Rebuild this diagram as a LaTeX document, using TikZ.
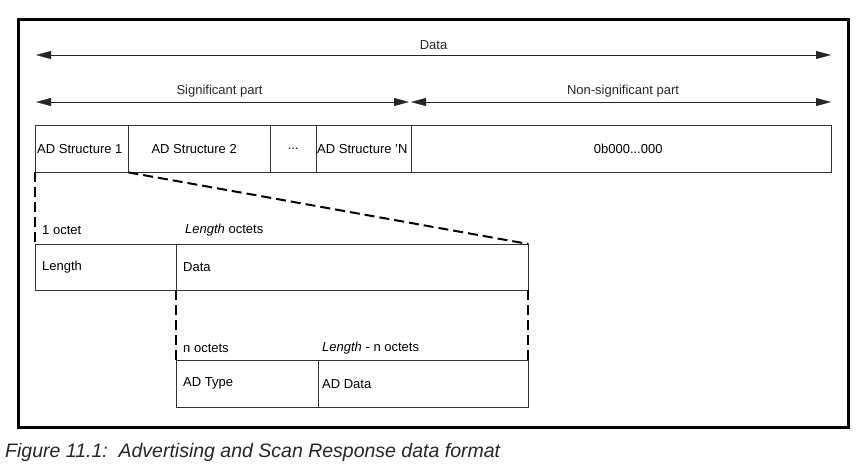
\documentclass[tikz,border=0pt]{standalone}
\usepackage{fontspec}
\setmainfont{Liberation Sans}
\usetikzlibrary{arrows.meta}
\tikzset{
	field/.style={draw=black!80, thin, anchor=north west, inner sep=0pt},
	fieldtext/.style={anchor=west, inner sep=0pt, font=\fontsize{13}{15}\selectfont},
	span/.style={{Triangle[length=15pt,width=8pt]}-{Triangle[length=15pt,width=8pt]}, black!85, thin},
	zoomline/.style={dashed, dash pattern=on 10pt off 5pt, line width=2pt}
}
\begin{document}
\begin{tikzpicture}[x=1pt,y=-1pt]
		\useasboundingbox (0,0) rectangle (862,472);
		\draw[line width=3pt] (18,19) rectangle (848,427);
		\coordinate (dl) at (36,55);
		\coordinate (dr) at (831,55);
		\coordinate (sl) at (36,102);
		\coordinate (sr) at (409,102);
		\coordinate (nl) at (411,102);
		\coordinate (nr) at (831,102);
		\draw[span] (dl) -- node[above=5pt, fieldtext, anchor=south]{Data} (dr);
		\draw[span] (sl) -- node[above=5pt, fieldtext, anchor=south, xshift=-3pt]{Significant part} (sr);
		\draw[span] (nl) -- node[above=5pt, fieldtext, anchor=south, xshift=2pt]{Non-significant part} (nr);
		\node[field, minimum width=93pt, minimum height=47pt] (s1) at (35,125) {};
		\node[field, minimum width=142pt, minimum height=47pt] (s2) at (128,125) {};
		\node[field, minimum width=46pt, minimum height=47pt] (sdots) at (270,125) {};
		\node[field, minimum width=95pt, minimum height=47pt] (sN) at (316,125) {};
		\node[field, minimum width=420pt, minimum height=47pt] (pad) at (411,125) {};
		\node[fieldtext] (s1t) at ([xshift=2pt]s1.west) {AD Structure 1};
		\node[fieldtext, anchor=center] (s2t) at ([xshift=-5pt]s2.center) {AD Structure 2};
		\node[fieldtext, anchor=center] (sdotst) at (sdots.center) {...};
		\node[fieldtext] (sNt) at ([xshift=1pt]sN.west) {AD Structure 'N};
		\node[fieldtext, anchor=center] (padt) at ([xshift=7pt]pad.center) {0b000...000};
		\node[field, minimum width=141pt, minimum height=46pt] (len) at (35,244) {};
		\node[field, minimum width=352pt, minimum height=46pt] (dat) at (176,244) {};
		\node[fieldtext] (lent) at ([xshift=7pt]len.west) {Length};
		\node[fieldtext] (datt) at ([xshift=7pt]dat.west) {Data};
		\node[fieldtext] (lenw) at (42,230) {1 octet};
		\node[fieldtext] (datw) at (185,230) {\emph{Length} octets};
		\node[field, minimum width=142pt, minimum height=47pt] (type) at (176,360) {};
		\node[field, minimum width=210pt, minimum height=47pt] (addata) at (318,360) {};
		\node[fieldtext] (typet) at ([xshift=7pt]type.west) {AD Type};
		\node[fieldtext] (addatat) at ([xshift=4pt]addata.west) {AD Data};
		\node[fieldtext] (typew) at (183,348) {n octets};
		\node[fieldtext] (addataw) at (322,348) {\emph{Length} - n octets};
		\draw[zoomline] (s1.south west) -- (len.north west);
		\draw[zoomline] (s1.south east) -- (dat.north east);
		\draw[zoomline] (dat.south west) -- (type.north west);
		\draw[zoomline] (dat.south east) -- (addata.north east);
		\node[anchor=west, inner sep=0pt, font=\fontsize{19.5}{21}\selectfont\itshape, text=black!85] (caption) at (5,452) {Figure 11.1:\ \ Advertising and Scan Response data format};
	\end{tikzpicture}
\end{document}
